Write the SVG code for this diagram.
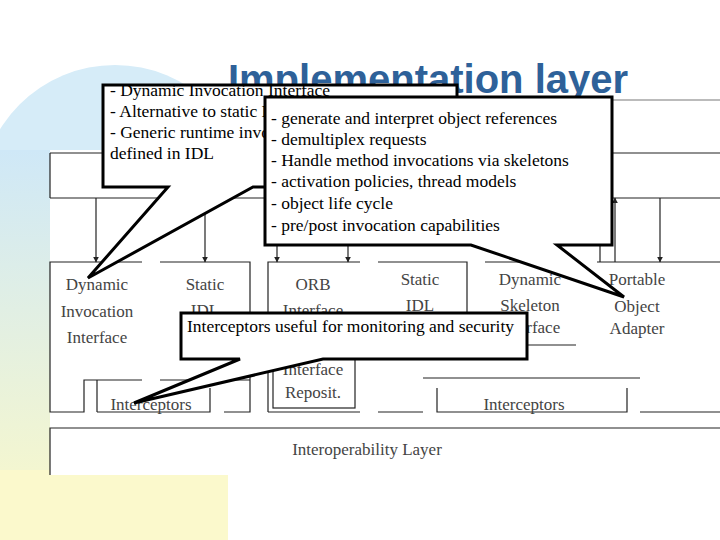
<svg xmlns="http://www.w3.org/2000/svg" width="720" height="540" viewBox="0 0 720 540">
<defs>
<linearGradient id="lg" x1="0" y1="0" x2="0" y2="1"><stop offset="0" stop-color="#cfe8f7"/><stop offset="1" stop-color="#fbf9c8"/></linearGradient>
<marker id="ah" viewBox="0 0 10 10" refX="9" refY="5" markerWidth="5" markerHeight="6" orient="auto"><path d="M0,0L10,5L0,10z" fill="#222"/></marker>
<style>
.d{font-family:"Liberation Serif",serif;font-size:17px;fill:#444;text-anchor:middle}
.c{font-family:"Liberation Serif",serif;font-size:17.5px;fill:#000}
.ln{stroke:#222;stroke-width:1.2;fill:none}
.co{fill:#fff;stroke:#000;stroke-width:3}
</style>
</defs>
<rect width="720" height="540" fill="#fff"/>
<circle cx="115" cy="200" r="135" fill="#d6ecf8"/>
<rect x="0" y="150" width="50" height="390" fill="url(#lg)"/>
<rect x="0" y="470" width="228" height="70" fill="#fbf9cc"/>
<line x1="580" y1="100" x2="720" y2="100" stroke="#bbb" stroke-width="2"/>
<text x="428" y="93" text-anchor="middle" font-family="Liberation Sans,sans-serif" font-weight="bold" font-size="40" fill="#2e6199">Implementation layer</text>
<rect x="50" y="150" width="670" height="325" fill="#fff"/>
<g id="connectors">
<path class="ln" d="M50,153H720M50,198H720M50,153V198"/>
<line class="ln" x1="96" y1="198" x2="96" y2="262" marker-end="url(#ah)"/>
<line class="ln" x1="205" y1="198" x2="205" y2="262" marker-end="url(#ah)"/>
<line class="ln" x1="277" y1="198" x2="277" y2="262" marker-end="url(#ah)"/>
<line class="ln" x1="348" y1="198" x2="348" y2="262" marker-end="url(#ah)"/>
<line class="ln" x1="615" y1="262" x2="615" y2="198" marker-end="url(#ah)"/>
<line class="ln" x1="660" y1="198" x2="660" y2="262" marker-end="url(#ah)"/>
</g>
<g id="dii"><path class="ln" d="M142,262H50V412H84V380H142"/><text class="d" x="97" y="290">Dynamic</text><text class="d" x="97" y="317">Invocation</text><text class="d" x="97" y="343">Interface</text></g>
<g id="sidl"><path class="ln" d="M160,262H250V412H224M160,380H250"/><text class="d" x="205" y="290">Static</text><text class="d" x="205" y="316">IDL</text></g>
<g id="icpt1"><path class="ln" d="M97,412V380M97,412H210V388"/><text class="d" x="151" y="410">Interceptors</text></g>
<g id="orb"><path class="ln" d="M268,412V262H360M268,412H360"/><text class="d" x="313" y="290">ORB</text><text class="d" x="313" y="316">Interface</text></g>
<g id="repo"><rect class="ln" x="273" y="340" width="82" height="68"/><text class="d" x="313" y="375">Interface</text><text class="d" x="313" y="398">Reposit.</text></g>
<g id="sidl2"><path class="ln" d="M378,262H467V355H445M378,412H423"/><text class="d" x="420" y="285">Static</text><text class="d" x="420" y="311">IDL</text></g>
<g id="dsi"><path class="ln" d="M485,262H575M500,345H576"/><text class="d" x="530" y="285">Dynamic</text><text class="d" x="530" y="311">Skeleton</text><text class="d" x="530" y="333">Interface</text></g>
<g id="poa"><path class="ln" d="M597,262H720M600,262V198"/><text class="d" x="637" y="285">Portable</text><text class="d" x="637" y="312">Object</text><text class="d" x="637" y="334">Adapter</text></g>
<g id="icpt2"><path class="ln" d="M423,378H640M437,388V412H627V388M640,412H720"/><text class="d" x="524" y="410">Interceptors</text></g>
<g id="interop"><path class="ln" d="M50,475V428H720"/><text class="d" x="367" y="455">Interoperability Layer</text></g>
<g id="callout1"><path class="co" d="M103,85H457V187H253L88,278L168,187H103Z"/>
<text class="c" x="110" y="96">- Dynamic Invocation Interface</text><text class="c" x="110" y="117">- Alternative to static IDL</text><text class="c" x="110" y="138">- Generic runtime invocation</text><text class="c" x="110" y="159">defined in IDL</text></g>
<g id="callout2"><path class="co" d="M265,97H612V245H557L624,297L471,245H265Z"/>
<text class="c" x="271" y="124">- generate and interpret object  references</text><text class="c" x="271" y="145">- demultiplex requests</text><text class="c" x="271" y="166">- Handle method invocations via skeletons</text><text class="c" x="271" y="187">- activation policies, thread models</text><text class="c" x="271" y="209">- object life cycle</text><text class="c" x="271" y="231">- pre/post invocation capabilities</text></g>
<g id="callout3"><path class="co" d="M181,313H527V359H323L134,403L240,359H181Z"/>
<text class="c" x="187" y="332">Interceptors useful for monitoring and security</text></g>
</svg>
